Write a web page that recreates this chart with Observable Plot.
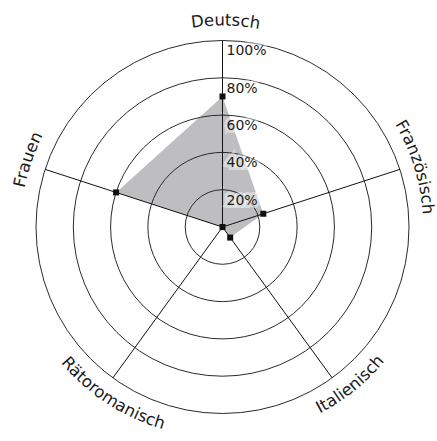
<!DOCTYPE html>
<html>
<head>
<meta charset="utf-8">
<script src="https://cdn.jsdelivr.net/npm/d3@7"></script>
<script src="https://cdn.jsdelivr.net/npm/@observablehq/plot@0.6"></script>
<style>
  html, body { margin: 0; padding: 0; background: #fff; }
</style>
</head>
<body>
<div id="chart"></div>
<script>
// ---- data ----
const categories = ["Deutsch", "Französisch", "Italienisch", "Rätoromanisch", "Frauen"];
const shares = [70, 23, 7, 0, 60];            // percent
const ringValues = [20, 40, 60, 80, 100];
const ringLabels = ["20%", "40%", "60%", "80%", "100%"];

// ---- derived tables ----
const step = 360 / categories.length;
const axes = categories.map((name, i) => ({name, angle: i * step}));
const rad = (deg) => deg * Math.PI / 180;
const points = categories.map((name, i) => ({
  name, value: shares[i], angle: i * step
}));
const px = (d) => d.value * Math.sin(rad(d.angle));
const py = (d) => d.value * Math.cos(rad(d.angle));
const rings = ringValues.map((v, i) => ({value: v, label: ringLabels[i]}));

// layout: centre of the radar at (222, 226.5), 186.5 px for 100 %
const W = 437, H = 441, CX = 222, CY = 226.5, R100 = 186.5;
const k = R100 / 100;

// custom mark: axis labels set along arcs outside the outer ring
function arcLabels(index, scales) {
  const x = scales.x, y = scales.y;
  const cx = x(0), cy = y(0);
  const g = d3.create("svg:g")
    .attr("font-family", "DejaVu Sans")
    .attr("font-size", 16.5)
    .attr("fill", "#1a1a1a");
  const pt = (r, a) => [cx + r * Math.sin(rad(a)), cy - r * Math.cos(rad(a))];
  axes.forEach((d, i) => {
    const a = ((d.angle + 180) % 360) - 180;     // -180..180
    const top = Math.abs(a) < 100;
    let path;
    if (top) {
      const r = x(107.8) - cx;
      const c = d.angle + 1;
      const [x1, y1] = pt(r, c - 70), [x2, y2] = pt(r, c + 70);
      path = `M${x1},${y1}A${r},${r} 0 0 1 ${x2},${y2}`;
    } else {
      const r = x(113.2) - cx;
      const c = d.angle - 3;
      const [x1, y1] = pt(r, c + 70), [x2, y2] = pt(r, c - 70);
      path = `M${x1},${y1}A${r},${r} 0 0 0 ${x2},${y2}`;
    }
    const id = "arc-label-" + i;
    g.append("path").attr("id", id).attr("d", path).attr("fill", "none");
    g.append("text")
      .append("textPath")
      .attr("href", "#" + id)
      .attr("startOffset", "50%")
      .attr("text-anchor", "middle")
      .text(d.name);
  });
  return g.node();
}

const chart = Plot.plot({
  width: W,
  height: H,
  margin: 0,
  x: {domain: [-CX / k, (W - CX) / k], axis: null},
  y: {domain: [-(H - CY) / k, CY / k], axis: null},
  r: {type: "linear", domain: [0, 100], range: [0, R100]},
  style: {fontFamily: "DejaVu Sans", background: "white", overflow: "visible"},
  marks: [
    // filled share polygon
    Plot.line(points, {x: px, y: py, curve: "linear-closed", fill: "#bebec0", stroke: "none"}),
    // rings
    Plot.dot(rings, {x: () => 0, y: () => 0, r: "value", stroke: "#2a2a2a", strokeWidth: 1, fill: "none"}),
    // spokes
    Plot.link(axes, {
      x1: () => 0, y1: () => 0,
      x2: (d) => 100 * Math.sin(rad(d.angle)),
      y2: (d) => 100 * Math.cos(rad(d.angle)),
      stroke: "#111", strokeWidth: 1
    }),
    // value markers
    Plot.dot(points, {x: px, y: py, symbol: "square", r: 3.4, fill: "#111", stroke: "none"}),
    // ring labels
    Plot.text(rings, {
      x: () => 0, y: "value", text: "label",
      textAnchor: "start", lineAnchor: "top", dx: 4, dy: 5,
      fontSize: 14, fill: "#1a1a1a",
      stroke: "white", strokeOpacity: 0.45, strokeWidth: 6, strokeLinejoin: "miter",
      paintOrder: "stroke"
    }),
    // axis labels
    arcLabels
  ]
});

document.getElementById("chart").append(chart);
</script>
</body>
</html>
